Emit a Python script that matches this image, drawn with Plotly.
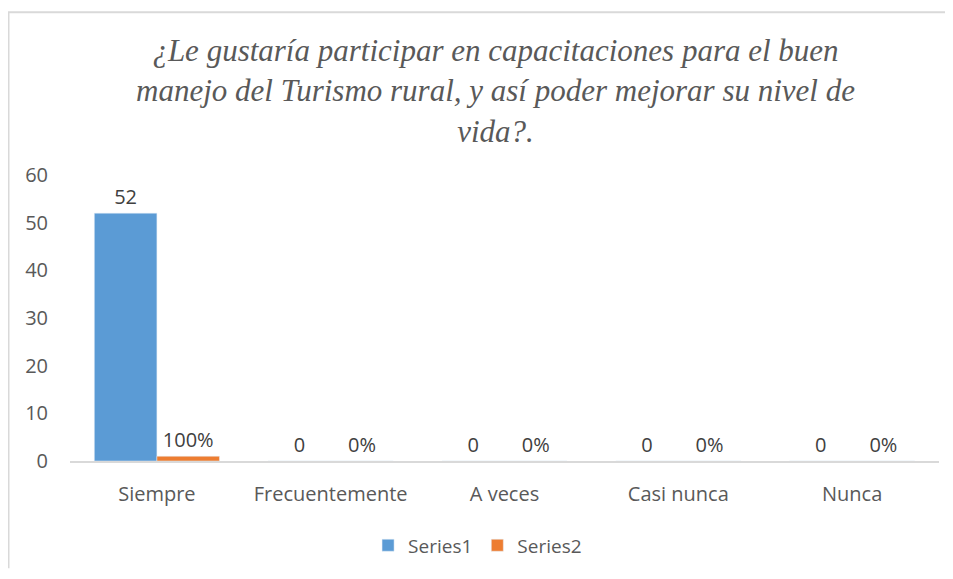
import plotly.graph_objects as go

categories = ["Siempre", "Frecuentemente", "A veces", "Casi nunca", "Nunca"]
series1 = [52, 0, 0, 0, 0]
series2 = [1.0, 0, 0, 0, 0]  # shown as percentages

title_text = ("¿Le gustaría participar en capacitaciones para el buen<br>"
              "manejo del Turismo rural, y así poder mejorar su nivel de<br>"
              "vida?.")

# page body has an 8px margin, so the figure is a bit smaller than the window
W, H = 937, 563
L, R, T, B = 62, 6, 167, 108
pw, ph = W - L - R, H - T - B

sans = "Open Sans, Noto Sans, sans-serif"
serif = "'Liberation Serif', 'Times New Roman', 'DejaVu Serif', serif"
label_font = dict(family=sans, size=20, color="#404040")

fig = go.Figure()
fig.add_trace(go.Bar(
    x=categories, y=series1, name="Series1",
    marker_color="#5B9BD5",
    texttemplate="%{y}", textposition="outside",
    textfont=label_font, cliponaxis=False,
))
fig.add_trace(go.Bar(
    x=categories, y=series2, name="Series2",
    marker_color="#ED7D31",
    texttemplate="%{y:.0%}", textposition="outside",
    textfont=label_font, cliponaxis=False,
))

# chart area border (only top and left edges are visible in the crop)
border = dict(color="#D9D9D9", width=2)
fig.add_shape(type="line", xref="paper", yref="paper",
              x0=(0 - L) / pw, x1=(W - L) / pw,
              y0=(H - B - 3) / ph, y1=(H - B - 3) / ph, line=border)
fig.add_shape(type="line", xref="paper", yref="paper",
              x0=(0.5 - L) / pw, x1=(0.5 - L) / pw,
              y0=(H - B - 3) / ph, y1=-B / ph, line=border)

# title as an annotation so the three lines sit where they should
fig.add_annotation(
    text=title_text, xref="paper", yref="paper",
    x=(487 - L) / pw, y=(H - B - 22) / ph, xanchor="center", yanchor="top",
    showarrow=False, align="center",
    font=dict(family=serif, size=31, color="#595959", style="italic"),
)

fig.update_layout(
    width=W, height=H,
    margin=dict(l=L, r=R, t=T, b=B),
    paper_bgcolor="white", plot_bgcolor="white",
    barmode="group", bargap=0.28, bargroupgap=0,
    font=dict(family=sans, size=20, color="#595959"),
    xaxis=dict(showline=True, linecolor="#D9D9D9", linewidth=2,
               ticks="", showgrid=False, tickfont=dict(size=20, color="#595959"),
               ticklabelstandoff=14),
    yaxis=dict(range=[0, 60], dtick=10, showgrid=False, zeroline=False,
               showline=False, ticks="", tickfont=dict(size=20, color="#595959"),
               ticklabelstandoff=21),
    legend=dict(orientation="h", x=0.469, xanchor="center", y=-0.295, yanchor="middle",
                font=dict(size=19, color="#595959"), itemwidth=30),
    showlegend=True,
)

fig.write_html("out.html")
